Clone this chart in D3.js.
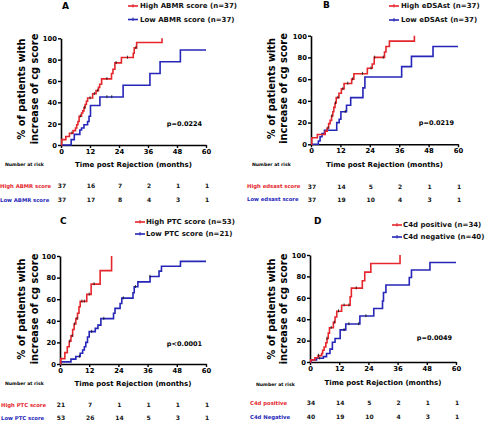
<!DOCTYPE html>
<html><head><meta charset="utf-8">
<script src="https://cdn.jsdelivr.net/npm/d3@7"></script>
<style>
html,body{margin:0;padding:0;background:#fff;}
svg text{font-family:"DejaVu Sans",Verdana,sans-serif;font-weight:bold;}
</style></head>
<body>
<svg id="c" width="485" height="421"></svg>
<script>
// ---------- DATA ----------
const timeTicks = [0, 12, 24, 36, 48, 60];
const pctTicks = [0, 20, 40, 60, 80, 100];
const panelLetters = ["A", "B", "C", "D"];
const pValues = ["p=0.0224", "p=0.0219", "p<0.0001", "p=0.0049"];
const xTitle = "Time post Rejection (months)";
const yTitle = ["% of patients with", "increase of cg score"];
const riskTitle = "Number at risk";

// Panel A
const legendA = ["High ABMR score (n=37)", "Low ABMR score (n=37)"];
const riskLabelsA = ["High ABMR score", "Low ABMR score"];
const riskHighA = [37, 16, 7, 2, 1, 1];
const riskLowA = [37, 17, 8, 4, 3, 1];
const highA = [[0.3,5],[2,8],[3.5,11],[5,13.5],[6,16],[6.5,19],[7,22],[7.5,27],[8.5,30],[9,32],[9.5,35],[10,38],[10.5,41],[11,44],[13.1,48],[14.5,51],[15.5,54],[16,57],[16.8,62],[20.9,67],[21.5,71],[22.3,77],[25,82],[29.9,86],[30.3,91],[31.3,96],[41.8,100]];
const highAEnd = 41.8;
const lowA = [[4.2,5],[5.5,10],[7.8,14],[8.5,16],[9.5,19],[11,22],[11.6,27],[12.2,37],[16.1,45],[25.7,56],[36.8,67],[41,78],[49.4,89]];
const lowAEnd = 60;
const censHighA = [4.5, 8, 9.8, 12, 13.8, 15.2, 19, 22.8, 27.5, 31];
const censLowA = [19, 21];

// Panel B
const legendB = ["High eDSAst (n=37)", "Low eDSAst (n=37)"];
const riskLabelsB = ["High edsast score", "Low edsast score"];
const riskHighB = [37, 14, 5, 2, 1, 1];
const riskLowB = [37, 19, 10, 4, 3, 1];
const highB = [[0.3,6],[2.6,9],[5.8,12],[6.6,15],[7.2,19],[7.8,22],[8.4,26],[8.9,30],[9.3,34],[9.8,38],[10.3,43],[11.4,47],[12.4,51],[13.5,56],[16.6,60],[17.5,65],[23,70],[25,74],[25.8,80],[30,85],[30.6,90],[32,95],[42.2,100]];
const highBEnd = 42.2;
const lowB = [[3,3],[3.7,7],[4.5,10],[5.5,13],[10.5,20],[11.5,23],[12.2,30],[14.5,36],[16.2,43],[21.2,52],[22,62],[37,71.5],[41,81],[49.8,90]];
const lowBEnd = 60;
const censHighB = [7, 8.5, 10, 11, 13, 15, 17, 21, 24.5, 26, 29.5];
const censLowB = [6.5, 14];

// Panel C
const legendC = ["High PTC score (n=53)", "Low PTC score (n=21)"];
const riskLabelsC = ["High PTC score", "Low PTC score"];
const riskHighC = [21, 7, 1, 1, 1, 1];
const riskLowC = [53, 26, 14, 5, 3, 1];
const highC = [[0.3,5],[2,10.5],[3,16],[3.8,21],[4.5,26],[5.2,32],[5.8,37],[6.5,42],[7.2,47],[7.8,53],[8.3,58],[11,64.5],[12.8,74],[16.5,86.5],[21.2,100]];
const highCEnd = 21.2;
const lowC = [[0.3,2],[4.5,4.5],[6.5,7],[8.3,10],[9.3,13],[10,16],[10.6,20],[11.3,25],[12,30],[14.5,33],[15.6,36],[16.8,42],[22,47],[22.6,51.5],[24.7,56],[25.4,61],[30,66],[30.5,71.5],[32,76],[37,81],[40.7,86],[41.7,90.5],[49.5,95]];
const lowCEnd = 60;
const censHighC = [4, 5, 6, 7, 9, 10, 12, 14];
const censLowC = [8, 13, 18, 26, 31, 37];

// Panel D
const legendD = ["C4d positive (n=34)", "C4d negative (n=40)"];
const riskLabelsD = ["C4d positive", "C4d Negative"];
const riskHighD = [34, 14, 5, 2, 1, 1];
const riskLowD = [40, 19, 10, 4, 3, 1];
const highD = [[0.3,2],[2,4],[3.3,6],[4.8,8],[5.2,11],[5.8,14],[6.5,18],[7,22],[7.5,27],[8,32],[9.6,37],[10.3,42],[11,47.5],[13,53],[16.5,61],[17,69],[21.5,76],[22.5,84],[25,92],[37,100]];
const highDEnd = 37;
const lowD = [[0.5,2],[2.7,3.5],[5.5,5],[6.8,8],[8.2,12],[9.2,18.5],[10.3,22],[12.4,30],[14.7,35.5],[20.5,43],[26.2,50],[29.8,57],[30.2,65],[31.2,72],[40.8,79],[41.7,86],[49.3,93]];
const lowDEnd = 60;
const censHighD = [3.5, 7, 8.7, 10, 11.7, 14, 16, 19];
const censLowD = [4, 14, 16, 20, 23];

// ---------- LAYOUT ----------
const RED = "#e5262c", BLUE = "#2626b8";
const FONT = '"DejaVu Sans",Verdana,sans-serif';
const panels = [
  {letter:0, x0:61, x1:206, yT:38.3, yB:145, lx:62, ly:5.5, legX:128, legTx:140, legY:[6,19.5], ytx:[22,35], yty:89,
   xtY:164.5, nrX:5, nrY:164.5, rY:[186,200], rlX:0, pY:124,
   legend:legendA, rl:riskLabelsA, rh:riskHighA, rlo:riskLowA, hi:highA, hiEnd:highAEnd, lo:lowA, loEnd:lowAEnd, ch:censHighA, cl:censLowA},
  {letter:1, x0:311, x1:458, yT:35.7, yB:144.3, lx:323, ly:5, legX:389, legTx:401, legY:[6,20], ytx:[272,284], yty:88.5,
   xtY:164.3, nrX:252, nrY:164, rY:[186.5,199.5], rlX:247, pY:123,
   legend:legendB, rl:riskLabelsB, rh:riskHighB, rlo:riskLowB, hi:highB, hiEnd:highBEnd, lo:lowB, loEnd:lowBEnd, ch:censHighB, cl:censLowB},
  {letter:2, x0:60, x1:206, yT:256, yB:364, lx:60, ly:221, legX:135, legTx:146, legY:[222,234], ytx:[22,35], yty:309,
   xtY:383.3, nrX:5, nrY:383, rY:[405,418.3], rlX:1, pY:344,
   legend:legendC, rl:riskLabelsC, rh:riskHighC, rlo:riskLowC, hi:highC, hiEnd:highCEnd, lo:lowC, loEnd:lowCEnd, ch:censHighC, cl:censLowC},
  {letter:3, x0:310, x1:456, yT:255, yB:362, lx:314, ly:221, legX:392, legTx:403, legY:[225,237], ytx:[272,284], yty:309,
   xtY:382.3, nrX:256, nrY:384, rY:[403.3,417.3], rlX:250, pY:338,
   legend:legendD, rl:riskLabelsD, rh:riskHighD, rlo:riskLowD, hi:highD, hiEnd:highDEnd, lo:lowD, loEnd:lowDEnd, ch:censHighD, cl:censLowD}
];

const svg = d3.select("#c");

function seriesPoints(events, end) {
  const pts = [[0, 0]].concat(events);
  const last = pts[pts.length - 1];
  if (end > last[0]) pts.push([end, last[1]]);
  return pts;
}
function valueAt(events, t) {
  let v = 0;
  for (const e of events) { if (e[0] <= t) v = e[1]; }
  return v;
}

panels.forEach((p, i) => {
  const g = svg.append("g");
  const x = d3.scaleLinear().domain([0, 60]).range([p.x0, p.x1]);
  const y = d3.scaleLinear().domain([0, 100]).range([p.yB, p.yT]);

  // axes
  const xa = g.append("g").attr("transform", `translate(0,${p.yB})`)
    .call(d3.axisBottom(x).tickValues(timeTicks).tickSize(3).tickSizeOuter(0).tickPadding(1));
  const ya = g.append("g").attr("transform", `translate(${p.x0},0)`)
    .call(d3.axisLeft(y).tickValues(pctTicks).tickSize(3).tickSizeOuter(0).tickPadding(1));
  [xa, ya].forEach(a => {
    a.select(".domain").attr("stroke", "#000").attr("stroke-width", 1.6);
    a.selectAll(".tick line").attr("stroke", "#000").attr("stroke-width", 1.4);
    a.selectAll("text").attr("font-size", 6.8).attr("fill", "#000")
      .style("font-family", FONT).style("font-weight", "bold");
  });
  ya.selectAll("text").attr("dy", "0.35em");

  // curves
  const line = d3.line().x(d => x(d[0])).y(d => y(d[1])).curve(d3.curveStepAfter);
  [[p.lo, p.loEnd, BLUE, p.cl], [p.hi, p.hiEnd, RED, p.ch]].forEach(([ev, end, col, cens]) => {
    g.append("path").attr("d", line(seriesPoints(ev, end)))
      .attr("fill", "none").attr("stroke", col).attr("stroke-width", 1.6);
    g.selectAll(null).data(cens).enter().append("line")
      .attr("x1", d => x(d)).attr("x2", d => x(d))
      .attr("y1", d => y(valueAt(ev, d)) - 1.8).attr("y2", d => y(valueAt(ev, d)) + 1.2)
      .attr("stroke", "#111").attr("stroke-width", 0.8);
  });

  // panel letter
  g.append("text").attr("x", p.lx).attr("y", p.ly).attr("dy", "0.35em")
    .attr("font-size", 9).text(panelLetters[p.letter]);

  // legend
  [RED, BLUE].forEach((col, k) => {
    const ly = p.legY[k];
    g.append("line").attr("x1", p.legX).attr("x2", p.legX + 10).attr("y1", ly).attr("y2", ly)
      .attr("stroke", col).attr("stroke-width", 1.6);
    g.append("line").attr("x1", p.legX + 5).attr("x2", p.legX + 5).attr("y1", ly - 2).attr("y2", ly + 1.5)
      .attr("stroke", col).attr("stroke-width", 1);
    g.append("text").attr("x", p.legTx).attr("y", ly).attr("dy", "0.35em")
      .attr("font-size", 7).attr("fill", "#111").text(p.legend[k]);
  });

  // y title
  yTitle.forEach((t, k) => {
    g.append("text").attr("transform", `translate(${p.ytx[k]},${p.yty}) rotate(-90)`)
      .attr("text-anchor", "middle").attr("dy", "0.35em").attr("font-size", 9.8).text(t);
  });

  // x title
  g.append("text").attr("x", (p.x0 + p.x1) / 2).attr("y", p.xtY).attr("dy", "0.35em")
    .attr("text-anchor", "middle").attr("font-size", 7).text(xTitle);

  // p value
  g.append("text").attr("x", p.x1 - 4).attr("y", p.pY).attr("dy", "0.35em")
    .attr("text-anchor", "end").attr("font-size", 6.5).text(pValues[i]);

  // number at risk
  g.append("text").attr("x", p.nrX).attr("y", p.nrY).attr("dy", "0.35em")
    .attr("font-size", 4.6).text(riskTitle);

  [[p.rh, RED], [p.rlo, BLUE]].forEach(([vals, col], k) => {
    g.append("text").attr("x", p.rlX).attr("y", p.rY[k]).attr("dy", "0.35em")
      .attr("font-size", 5.3).attr("fill", col).text(p.rl[k]);
    g.selectAll(null).data(vals).enter().append("text")
      .attr("x", (d, j) => x(timeTicks[j]) + 1).attr("y", p.rY[k]).attr("dy", "0.35em")
      .attr("text-anchor", "middle").attr("font-size", 6).attr("fill", "#111").text(d => d);
  });
});
</script>
</body></html>
